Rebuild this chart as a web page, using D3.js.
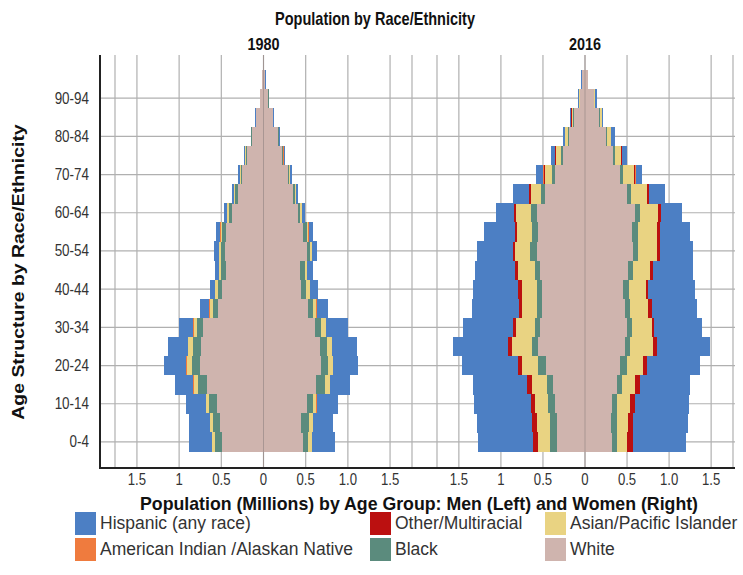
<!DOCTYPE html>
<html><head><meta charset="utf-8">
<script src="https://cdn.jsdelivr.net/npm/d3@7/dist/d3.min.js"></script>
<style>
body{margin:0;background:#fff;}
svg{display:block;font-family:"Liberation Sans",Arial,sans-serif;}
</style></head><body>
<svg id="chart" width="743" height="575"></svg>
<script>
// ---------- DATA (population in thousands, by 5-year age group) ----------
const ageGroups = ["0-4","5-9","10-14","15-19","20-24","25-29","30-34","35-39","40-44","45-49",
  "50-54","55-59","60-64","65-69","70-74","75-79","80-84","85-89","90-94","95-99"];
const ageTickLabels = ["0-4","10-14","20-24","30-34","40-44","50-54","60-64","70-74","80-84","90-94"];
const years = ["1980","2016"];
const races = ["White","Black","Asian/Pacific Islander","Other/Multiracial","American Indian /Alaskan Native","Hispanic (any race)"];
const raceColors = ["#cfb4ae","#5b8b7d","#e9d382","#bb1010","#ef7b3e","#4c7fc4"];
const legendOrder = ["Hispanic (any race)","American Indian /Alaskan Native","Other/Multiracial","Black","Asian/Pacific Islander","White"];
const xTickValues = [-1.5,-1,-0.5,0,0.5,1,1.5];
const xTickLabels = ["1.5","1","0.5","0","0.5","1.0","1.5"];

// 1980 men
const men1980White    = [492,510,557,675,752,735,717,539,486,450,462,450,379,308,255,196,136,84,41,15];
const men1980Black    = [83,89,89,101,95,95,71,59,53,53,47,41,30,24,15,12,7,5,2,1];
const men1980Asian    = [36,30,36,53,65,59,41,41,30,24,18,18,18,12,8,6,4,2,1,1];
const men1980Other    = [0,0,0,0,0,0,0,0,0,0,0,0,0,0,0,0,0,0,0,0];
const men1980AIAN     = [3,3,3,3,3,3,3,2,2,2,2,2,1,1,1,1,0,0,0,0];
const men1980Hispanic = [273,255,237,219,267,243,172,113,65,47,53,47,36,24,18,12,7,4,2,1];
// 1980 women
const women1980White    = [468,450,510,628,687,670,610,527,450,433,510,474,403,344,290,219,171,107,59,21];
const women1980Black    = [59,89,77,101,77,77,77,59,59,59,47,41,30,24,15,12,8,6,3,1];
const women1980Asian    = [47,47,41,59,59,59,53,41,41,24,18,18,18,12,8,6,4,2,1,1];
const women1980Other    = [0,0,0,0,0,0,0,0,0,0,0,0,0,0,0,0,0,0,0,0];
const women1980AIAN     = [3,3,3,3,3,3,3,2,2,2,2,2,1,1,1,1,0,0,0,0];
const women1980Hispanic = [273,237,255,237,296,296,261,136,95,71,53,47,36,24,18,12,7,4,2,1];
// 2016 men
const men2016White    = [332,332,356,379,462,557,533,510,510,533,569,557,569,474,356,261,190,130,59,31];
const men2016Black    = [83,83,83,71,95,71,59,59,59,59,83,71,71,47,36,24,12,12,5,4];
const men2016Asian    = [142,154,154,178,190,237,225,178,178,201,178,178,178,119,83,59,30,18,7,4];
const men2016Other    = [59,59,47,59,47,47,36,36,47,36,24,24,24,24,18,12,6,4,1,1];
const men2016AIAN     = [4,4,4,5,6,6,5,5,5,5,6,6,5,4,3,2,1,1,0,0];
const men2016Hispanic = [652,652,675,640,664,652,593,557,533,474,427,367,213,190,89,47,27,14,7,2];
// 2016 women
const women2016White    = [320,308,320,379,415,474,498,474,450,510,569,557,593,498,415,332,249,166,103,32];
const women2016Black    = [59,71,59,59,83,59,59,59,71,59,59,71,59,47,36,24,18,12,7,4];
const women2016Asian    = [119,130,154,154,190,273,237,213,201,201,225,225,213,190,130,71,41,20,12,2];
const women2016Other    = [71,59,59,59,47,47,24,47,24,36,36,36,36,24,18,12,6,4,2,1];
const women2016AIAN     = [4,4,4,5,6,6,5,5,5,5,6,6,5,4,3,2,1,1,0,0];
const women2016Hispanic = [628,652,640,593,628,628,569,533,557,474,391,356,249,190,77,59,41,15,14,2];

// ---------- BUILD TABLES ----------
function table(arrs){
  return ageGroups.map((a,i)=>{
    const row={age:a};
    races.forEach((r,k)=>row[r]=arrs[k][i]/1000);
    return row;
  });
}
const panels = [
  {year:years[0],
   men: table([men1980White,men1980Black,men1980Asian,men1980Other,men1980AIAN,men1980Hispanic]),
   women: table([women1980White,women1980Black,women1980Asian,women1980Other,women1980AIAN,women1980Hispanic])},
  {year:years[1],
   men: table([men2016White,men2016Black,men2016Asian,men2016Other,men2016AIAN,men2016Hispanic]),
   women: table([women2016White,women2016Black,women2016Asian,women2016Other,women2016AIAN,women2016Hispanic])}
];

// narrow the glyphs horizontally (reference uses a condensed face)
function squish(sel, f){
  sel.each(function(){
    const w = this.getComputedTextLength()*f;
    d3.select(this).attr("textLength", w).attr("lengthAdjust","spacingAndGlyphs");
  });
  return sel;
}

// ---------- LAYOUT ----------
const svg = d3.select("#chart");
const plotTop = 55, plotBottom = 468, axisX = 100, plotRight = 735;
const y = d3.scaleBand().domain(ageGroups).range([451.5, 69.5]).padding(0);
const xScales = [
  d3.scaleLinear().domain([-1.76,1.76]).range([115,412]),
  d3.scaleLinear().domain([-1.76,1.76]).range([437,733])
];
const color = d3.scaleOrdinal().domain(races).range(raceColors);
const stack = d3.stack().keys(races);

// grid
const grid = svg.append("g").attr("stroke","#b0b0b0").attr("stroke-width",1.2);
xScales.forEach(x=>{
  const vals = xTickValues.concat(x.domain());
  vals.forEach(v=>{
    grid.append("line").attr("x1",x(v)).attr("x2",x(v)).attr("y1",plotTop).attr("y2",plotBottom);
  });
});
ageTickLabels.forEach(a=>{
  const yy = y(a)+y.bandwidth()/2;
  grid.append("line").attr("x1",axisX).attr("x2",plotRight).attr("y1",yy).attr("y2",yy);
});

// bars
panels.forEach((p,pi)=>{
  const x = xScales[pi];
  const g = svg.append("g").attr("shape-rendering","crispEdges");
  [["men",-1],["women",1]].forEach(([sex,sign])=>{
    const series = stack(p[sex]);
    g.selectAll(null).data(series).join("g")
      .attr("fill",d=>color(d.key))
      .selectAll("rect").data(d=>d).join("rect")
      .attr("y",d=>y(d.data.age))
      .attr("height",y.bandwidth()+0.3)
      .attr("x",d=>sign<0 ? x(-d[1]) : x(d[0]))
      .attr("width",d=>Math.abs(x(d[1])-x(d[0])));
  });
  // center line over bars
  svg.append("line").attr("x1",x(0)).attr("x2",x(0)).attr("y1",plotTop).attr("y2",plotBottom)
    .attr("stroke","#9a8a88").attr("stroke-width",1).attr("opacity",0.7);
  // year label
  squish(svg.append("text").attr("x",x(0)).attr("y",50).attr("text-anchor","middle")
    .attr("font-weight","bold").attr("font-size",16).attr("fill","#111").text(p.year), 0.9);
  // x tick labels
  const ax = svg.append("g");
  xTickValues.forEach((v,i)=>{
    squish(ax.append("text").attr("x",x(v)).attr("y",485).attr("text-anchor","middle")
      .attr("font-size",16).attr("fill","#333").text(xTickLabels[i]), 0.82);
  });
});

// axes lines
svg.append("line").attr("x1",axisX).attr("x2",axisX).attr("y1",plotTop).attr("y2",plotBottom+1)
  .attr("stroke","#222").attr("stroke-width",2);
svg.append("line").attr("x1",axisX-1).attr("x2",plotRight).attr("y1",plotBottom).attr("y2",plotBottom)
  .attr("stroke","#222").attr("stroke-width",2);

// y tick labels
ageTickLabels.forEach(a=>{
  squish(svg.append("text").attr("x",89).attr("y",y(a)+y.bandwidth()/2+5.5).attr("text-anchor","end")
    .attr("font-size",16).attr("fill","#333").text(a), 0.84);
});

// titles
svg.append("text").attr("x",375).attr("y",25).attr("text-anchor","middle")
  .attr("font-weight","bold").attr("font-size",19).attr("fill","#111")
  .attr("textLength",200).attr("lengthAdjust","spacingAndGlyphs")
  .text("Population by Race/Ethnicity");
svg.append("text").attr("transform","translate(24,272) scale(0.82,1) rotate(-90)").attr("text-anchor","middle")
  .attr("font-weight","bold").attr("font-size",19.4).attr("fill","#111").text("Age Structure by Race/Ethnicity");
svg.append("text").attr("x",419).attr("y",510).attr("text-anchor","middle")
  .attr("font-weight","bold").attr("font-size",19).attr("fill","#111")
  .attr("textLength",558).attr("lengthAdjust","spacingAndGlyphs")
  .text("Population (Millions) by Age Group: Men (Left) and Women (Right)");

// legend
const legCols = [75, 370, 545];
const legRows = [512, 538];
legendOrder.forEach((r,i)=>{
  const cx = legCols[Math.floor(i/2)], cy = legRows[i%2];
  svg.append("rect").attr("x",cx).attr("y",cy).attr("width",21).attr("height",23).attr("fill",color(r));
  svg.append("text").attr("x",cx+25).attr("y",cy+17).attr("font-size",17.5).attr("fill","#333").text(r);
});
</script>
</body></html>
